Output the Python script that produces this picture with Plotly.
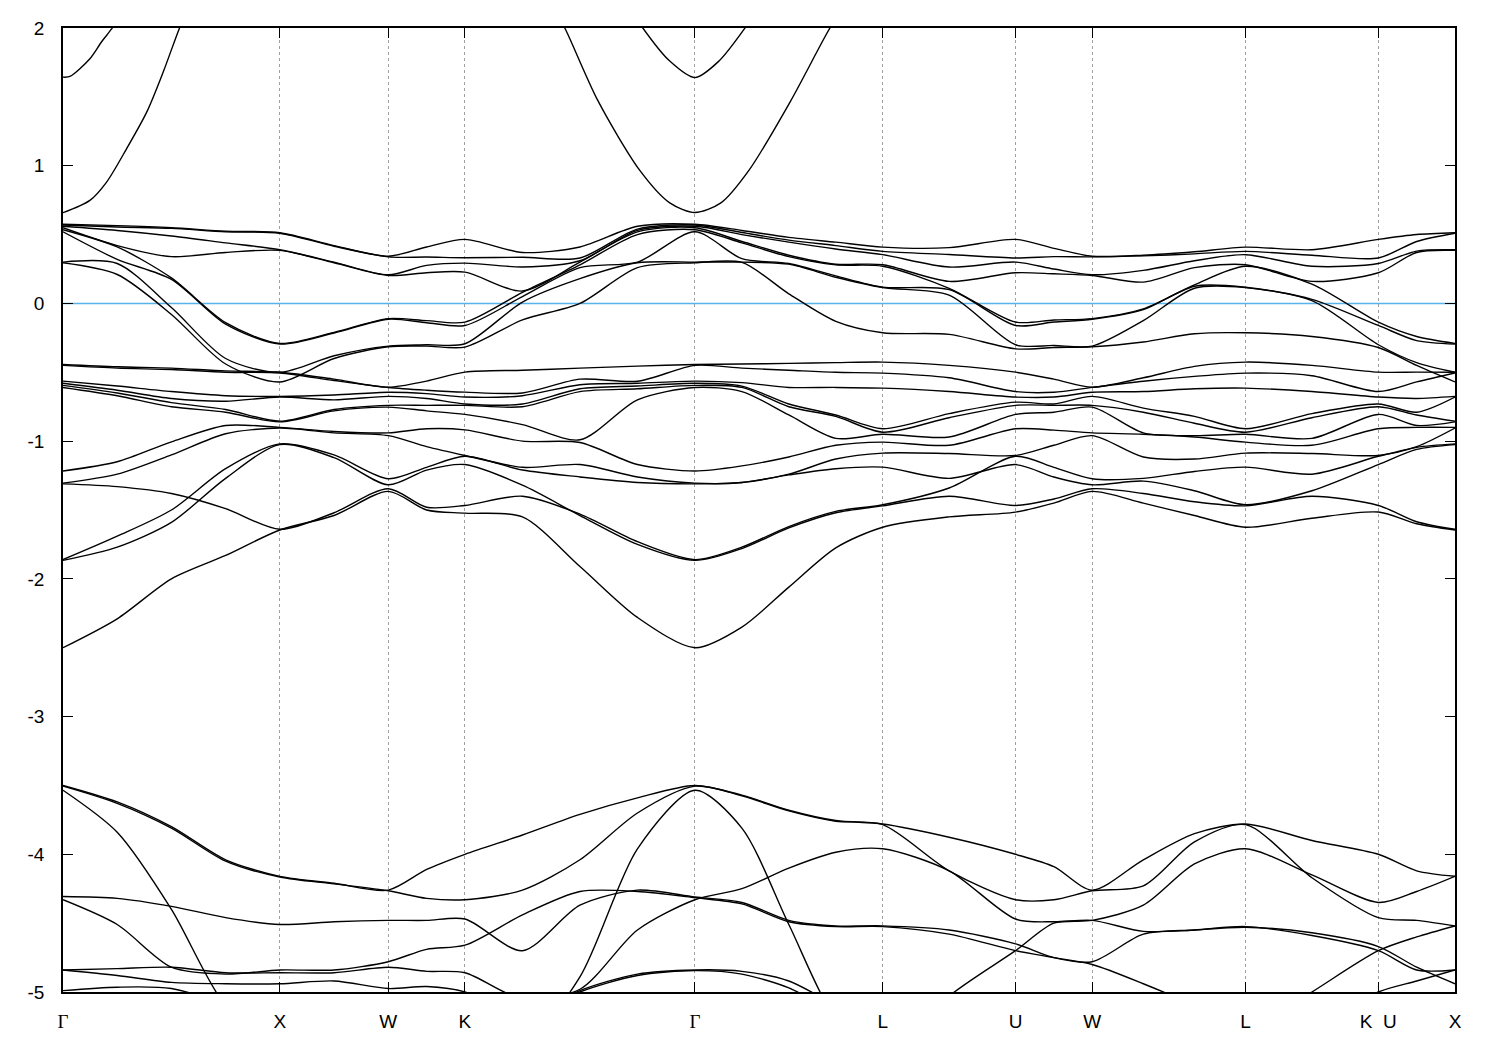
import plotly.graph_objects as go

# ---------------- k-path (high-symmetry points) ----------------
K_SYM = [0.0, 1.0, 1.5, 1.8536, 2.9142, 3.7802, 4.3926, 4.7462, 5.4533, 6.0657, 6.4193]
SERIF_G = '<span style="font-family:Liberation Serif">Γ</span>'
K_LABELS = [SERIF_G, "X", "W", "K", SERIF_G, "L", "U", "W", "L", "K\u00a0\u00a0U", "X"]

# sampling nodes along the path
K_NODES = [0.0, 0.25, 0.5, 0.75, 1.0,
           1.25, 1.5,
           1.6768, 1.8536,
           2.1188, 2.3839, 2.6491, 2.9142,
           3.1307, 3.3472, 3.5637, 3.7802,
           4.0864, 4.3926,
           4.5694, 4.7462,
           4.9819, 5.2176, 5.4533,
           5.7595, 6.0657,
           6.2425, 6.4193]

E_FERMI = 0.0

# ---------------- bands near the Fermi level (energies per node) ----------------
UPPER = [
    [0.575, 0.57, 0.56, 0.55, 0.535, 0.52, 0.30, 0.295],
    [0.565, 0.555, 0.53, 0.42, 0.41, 0.32, 0.29, 0.21],
    [0.55, 0.545, 0.49, 0.34, 0.185, 0.175, -0.03, -0.08],
    [0.525, 0.52, 0.44, 0.37, -0.14, -0.15, -0.40, -0.44],
    [0.513, 0.51, 0.39, 0.385, -0.29, -0.295, -0.50, -0.57],
    [0.42, 0.415, 0.30, 0.295, -0.21, -0.215, -0.38, -0.40],
    [0.343, 0.338, 0.208, 0.203, -0.11, -0.115, -0.31, -0.315],
    [0.41, 0.337, 0.276, 0.223, -0.125, -0.14, -0.30, -0.31],
    [0.465, 0.332, 0.293, 0.227, -0.136, -0.16, -0.293, -0.317],
    [0.37, 0.335, 0.265, 0.09, 0.08, 0.05, 0.01, -0.12],
    [0.41, 0.33, 0.31, 0.30, 0.28, 0.26, 0.18, 0.0],
    [0.56, 0.54, 0.53, 0.52, 0.50, 0.30, 0.295, 0.26],
    [0.575, 0.57, 0.56, 0.55, 0.535, 0.52, 0.30, 0.295],
    [0.53, 0.515, 0.50, 0.45, 0.44, 0.325, 0.30, 0.298],
    [0.48, 0.46, 0.445, 0.35, 0.34, 0.29, 0.285, 0.07],
    [0.445, 0.42, 0.395, 0.285, 0.28, 0.20, 0.19, -0.13],
    [0.409, 0.378, 0.354, 0.281, 0.27, 0.118, 0.115, -0.213],
    [0.405, 0.355, 0.264, 0.16, 0.11, 0.10, 0.06, -0.225],
    [0.465, 0.33, 0.30, 0.223, -0.135, -0.16, -0.30, -0.33],
    [0.40, 0.34, 0.25, 0.215, -0.12, -0.135, -0.305, -0.32],
    [0.343, 0.338, 0.208, 0.203, -0.11, -0.115, -0.31, -0.315],
    [0.35, 0.345, 0.24, 0.155, -0.04, -0.045, -0.125, -0.28],
    [0.375, 0.36, 0.31, 0.26, 0.135, 0.125, 0.11, -0.22],
    [0.409, 0.378, 0.354, 0.281, 0.27, 0.118, 0.115, -0.213],
    [0.39, 0.35, 0.27, 0.16, 0.14, 0.03, 0.02, -0.24],
    [0.465, 0.33, 0.29, 0.223, -0.136, -0.16, -0.30, -0.32],
    [0.50, 0.45, 0.38, 0.37, -0.24, -0.27, -0.43, -0.45],
    [0.513, 0.51, 0.39, 0.385, -0.29, -0.295, -0.50, -0.57],
]

MIDDLE = [
    [-0.443, -0.45, -0.564, -0.58, -0.595, -0.61, -1.217, -1.305, -1.31, -1.86, -1.866, -2.50],
    [-0.46, -0.47, -0.60, -0.63, -0.65, -0.67, -1.15, -1.24, -1.33, -1.69, -1.77, -2.29],
    [-0.47, -0.48, -0.64, -0.69, -0.72, -0.75, -1.005, -1.10, -1.38, -1.50, -1.59, -2.0],
    [-0.49, -0.50, -0.67, -0.71, -0.77, -0.79, -0.886, -0.946, -1.49, -1.20, -1.27, -1.83],
    [-0.50, -0.505, -0.675, -0.68, -0.855, -0.86, -0.90, -0.905, -1.64, -1.02, -1.025, -1.645],
    [-0.55, -0.56, -0.665, -0.70, -0.77, -0.78, -0.93, -0.94, -1.52, -1.10, -1.12, -1.54],
    [-0.608, -0.61, -0.645, -0.675, -0.74, -0.753, -0.94, -0.96, -1.346, -1.273, -1.317, -1.365],
    [-0.564, -0.63, -0.655, -0.69, -0.74, -0.78, -0.91, -1.04, -1.48, -1.19, -1.21, -1.50],
    [-0.499, -0.644, -0.68, -0.73, -0.74, -0.806, -0.918, -1.104, -1.467, -1.11, -1.17, -1.523],
    [-0.485, -0.65, -0.67, -0.73, -0.75, -0.88, -1.0, -1.19, -1.40, -1.21, -1.32, -1.55],
    [-0.47, -0.55, -0.59, -0.62, -0.64, -0.99, -1.01, -1.17, -1.53, -1.26, -1.54, -1.91],
    [-0.455, -0.565, -0.58, -0.60, -0.62, -0.70, -1.17, -1.26, -1.73, -1.30, -1.75, -2.28],
    [-0.443, -0.45, -0.564, -0.58, -0.595, -0.61, -1.217, -1.305, -1.86, -1.31, -1.866, -2.50],
    [-0.44, -0.47, -0.575, -0.60, -0.61, -0.64, -1.18, -1.30, -1.77, -1.30, -1.78, -2.35],
    [-0.435, -0.485, -0.61, -0.73, -0.75, -0.81, -1.115, -1.24, -1.62, -1.245, -1.63, -2.06],
    [-0.43, -0.50, -0.61, -0.81, -0.82, -0.98, -1.03, -1.13, -1.51, -1.20, -1.52, -1.775],
    [-0.426, -0.506, -0.615, -0.91, -0.935, -0.95, -1.007, -1.087, -1.462, -1.189, -1.47, -1.625],
    [-0.45, -0.54, -0.64, -0.80, -0.83, -0.97, -1.03, -1.09, -1.34, -1.27, -1.40, -1.55],
    [-0.499, -0.64, -0.68, -0.717, -0.74, -0.806, -0.91, -1.104, -1.11, -1.17, -1.467, -1.515],
    [-0.55, -0.645, -0.68, -0.73, -0.74, -0.79, -0.92, -1.03, -1.19, -1.26, -1.42, -1.45],
    [-0.608, -0.61, -0.645, -0.675, -0.74, -0.753, -0.94, -0.96, -1.273, -1.317, -1.346, -1.365],
    [-0.54, -0.565, -0.64, -0.76, -0.79, -0.94, -0.95, -1.115, -1.27, -1.29, -1.38, -1.45],
    [-0.457, -0.53, -0.62, -0.82, -0.87, -0.96, -0.97, -1.13, -1.22, -1.36, -1.44, -1.54],
    [-0.426, -0.506, -0.615, -0.91, -0.935, -0.95, -1.007, -1.087, -1.189, -1.462, -1.47, -1.625],
    [-0.45, -0.525, -0.64, -0.80, -0.83, -0.98, -1.03, -1.09, -1.24, -1.36, -1.40, -1.56],
    [-0.499, -0.64, -0.68, -0.73, -0.75, -0.806, -0.91, -1.104, -1.11, -1.17, -1.467, -1.515],
    [-0.499, -0.57, -0.69, -0.79, -0.81, -0.886, -0.90, -1.04, -1.045, -1.06, -1.585, -1.60],
    [-0.50, -0.505, -0.675, -0.68, -0.855, -0.86, -0.90, -0.905, -1.02, -1.025, -1.64, -1.645],
]

# ---------------- deep bands (-3.5 .. -5 eV), one list per band ----------------
DEEP_1 = [-3.50, -3.62, -3.80, -4.04, -4.16, -4.21, -4.26, -4.11, -4.00, -3.86, -3.71, -3.59, -3.50,
          -3.57, -3.68, -3.755, -3.78, -3.876, -4.00, -4.09, -4.26, -4.04, -3.85, -3.78, -3.90, -4.00, -4.12, -4.16]
DEEP_2 = [-3.505, -3.63, -3.81, -4.05, -4.165, -4.215, -4.265, -4.32, -4.33, -4.26, -4.04, -3.70, -3.505,
          -3.575, -3.685, -3.76, -3.785, -4.12, -4.33, -4.33, -4.265, -4.23, -3.91, -3.785, -4.17, -4.46, -4.48, -4.52]
DEEP_3 = [-3.535, -3.84, -4.40, -5.1, -5.4, -5.5, -5.5, -5.5, -5.5, -5.4, -4.89, -3.96, -3.535,
          -3.81, -4.51, -5.2, -5.5, -5.03, -4.70, -4.50, -4.48, -4.37, -4.07, -3.96, -4.15, -4.35, -4.27, -4.16]
DEEP_4 = [-4.306, -4.32, -4.378, -4.46, -4.51, -4.49, -4.48, -4.48, -4.47, -4.70, -4.37, -4.26, -4.31,
          -4.35, -4.48, -4.52, -4.52, -4.55, -4.65, -4.75, -4.78, -4.58, -4.55, -4.53, -4.57, -4.67, -4.82, -4.94]
DEEP_5 = [-4.33, -4.51, -4.82, -4.87, -4.84, -4.84, -4.78, -4.69, -4.66, -4.44, -4.27, -4.27, -4.315,
          -4.36, -4.49, -4.525, -4.525, -4.58, -4.70, -4.75, -4.80, -4.94, -5.1, -5.3, -5.25, -5.0, -4.92, -4.84]
DEEP_6 = [-4.84, -4.83, -4.82, -4.86, -4.86, -4.86, -4.82, -4.85, -4.86, -5.05, -4.98, -4.55, -4.33,
          -4.25, -4.10, -3.985, -3.96, -4.12, -4.47, -4.49, -4.48, -4.56, -4.55, -4.525, -4.59, -4.70, -4.84, -4.84]
DEEP_7 = [-4.84, -4.88, -4.93, -4.94, -4.94, -4.92, -4.975, -4.96, -5.0, -5.2, -4.99, -4.87, -4.84,
          -4.85, -4.92, -5.1, -5.3, -5.3, -5.3, -5.3, -5.3, -5.3, -5.3, -5.3, -5.0, -4.70, -4.60, -4.52]
DEEP_8 = [-4.99, -4.965, -4.975, -5.1, -5.3, -5.3, -5.3, -5.3, -5.3, -5.2, -5.0, -4.88, -4.845,
          -4.87, -4.97, -5.15, -5.3, -5.3, -5.3, -5.3, -5.3, -5.3, -5.3, -5.3, -5.3, -5.3, -5.3, -5.3]
DEEP_BANDS = [DEEP_1, DEEP_2, DEEP_3, DEEP_4, DEEP_5, DEEP_6, DEEP_7, DEEP_8]

# ---------------- conduction bands (own k samples) ----------------
CB1_K = [0.0, 0.032, 0.124, 0.178, 0.225, 0.26]
CB1_E = [1.643, 1.648, 1.777, 1.90, 1.995, 2.08]
CB2_K = [0.0, 0.124, 0.201, 0.293, 0.386, 0.462, 0.536, 0.57]
CB2_E = [0.659, 0.748, 0.881, 1.123, 1.389, 1.68, 1.995, 2.12]
CB3_K = [2.29, 2.314, 2.466, 2.660, 2.798, 2.9142, 3.034, 3.163, 3.357, 3.537, 3.565]
CB3_E = [2.06, 2.0, 1.474, 0.966, 0.73, 0.66, 0.73, 0.966, 1.474, 2.0, 2.06]
CB4_K = [2.65, 2.674, 2.798, 2.9142, 3.025, 3.145, 3.17]
CB4_E = [2.06, 2.0, 1.76, 1.64, 1.76, 2.0, 2.06]

fig = go.Figure()

line_style = dict(color="black", width=1.4, shape="spline", smoothing=0.8)


def add_band(x, y):
    fig.add_trace(go.Scatter(x=x, y=y, mode="lines", line=line_style,
                             showlegend=False, hoverinfo="skip"))


for band in zip(*UPPER):
    add_band(K_NODES, list(band))
for band in zip(*MIDDLE):
    add_band(K_NODES, list(band))
for band in DEEP_BANDS:
    add_band(K_NODES, band)
for kx, ey in [(CB1_K, CB1_E), (CB2_K, CB2_E), (CB3_K, CB3_E), (CB4_K, CB4_E)]:
    add_band(kx, ey)

font_main = dict(family="Liberation Sans, Arial, sans-serif", size=19, color="black")

fig.update_layout(
    width=1492, height=1042, autosize=False,
    margin=dict(l=55, r=45, t=20, b=58, pad=0),
    paper_bgcolor="white", plot_bgcolor="white",
    font=font_main,
    xaxis=dict(
        range=[K_SYM[0], K_SYM[-1]], automargin=False,
        tickmode="array", tickvals=K_SYM, ticktext=K_LABELS,
        ticks="inside", ticklen=10, tickwidth=1.3, tickcolor="black",
        showline=True, linecolor="black", linewidth=1.8, mirror="ticks",
        showgrid=True, gridcolor="#a0a0a0", gridwidth=1, griddash="3px,3px",
        zeroline=False, ticklabelstandoff=11,
        tickfont=font_main,
    ),
    yaxis=dict(
        range=[-5, 2], automargin=False,
        tickmode="array", tickvals=[-5, -4, -3, -2, -1, 0, 1, 2],
        ticktext=["-5", "-4", "-3", "-2", "-1", "0", "1", "2"],
        ticks="inside", ticklen=10, tickwidth=1.3, tickcolor="black",
        showline=True, linecolor="black", linewidth=1.8, mirror="ticks",
        showgrid=False, zeroline=False, ticklabelstandoff=13,
        tickfont=font_main,
    ),
)

fig.add_hline(y=E_FERMI, line=dict(color="#56b4e9", width=1.5), layer="below")

fig.write_html("out.html")
